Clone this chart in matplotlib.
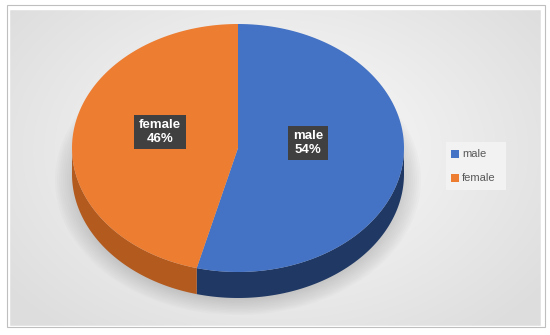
import numpy as np
import matplotlib.pyplot as plt
from matplotlib.patches import Polygon, Rectangle, Ellipse

# data
labels = ['male', 'female']
values = [54, 46]
top_colors = ['#4472c4', '#ed7d31']
side_colors = ['#1f3864', '#b35a1e']

# pie geometry (pixel units)
cx, cy = 238, 148
rx, ry = 166, 124
depth = 26

fig = plt.figure(figsize=(5.5, 3.35), dpi=100)
ax = fig.add_axes([0, 0, 1, 1])
ax.set_xlim(0, 550)
ax.set_ylim(335, 0)
ax.axis('off')

# background gradient
yy, xx = np.mgrid[0:335, 0:550]
d = np.sqrt(((xx - 275) / 330.0) ** 2 + ((yy - 150) / 230.0) ** 2)
bg = 0.99 - 0.12 * np.clip(d, 0, 1)
ax.imshow(np.dstack([bg, bg, bg]), extent=[0, 550, 335, 0], zorder=0)
ax.add_patch(Rectangle((0, 0), 550, 335, fc='none', ec='white', lw=14, zorder=1))
ax.add_patch(Rectangle((7, 5), 538, 322, fc='none', ec='#bfbfbf', lw=0.8, zorder=1))

# soft shadow under the pie
for k in range(12):
    ax.add_patch(Ellipse((cx, cy + depth + 6), 2 * rx + 34 - k * 4, 2 * ry + 22 - k * 3,
                         fc='#7f7f7f', ec='none', alpha=0.03, zorder=2))


def arc(a1, a2, dy=0, n=120):
    t = np.radians(np.linspace(a1, a2, n))
    return np.column_stack([cx + rx * np.cos(t), cy - ry * np.sin(t) + dy])


# slice angles: start at 12 o'clock, clockwise
total = float(sum(values))
starts, ends = [], []
a = 90.0
for v in values:
    starts.append(a)
    a -= 360.0 * v / total
    ends.append(a)

# sides (only the front half is visible: angles -180..0)
for s, e, c in zip(starts, ends, side_colors):
    lo, hi = max(e, -180), min(s, 0)
    if hi - lo > 0:
        top = arc(hi, lo)
        bot = arc(lo, hi, depth)
        ax.add_patch(Polygon(np.vstack([top, bot]), closed=True, fc=c, ec='none', zorder=3))

# top faces
for s, e, c in zip(starts, ends, top_colors):
    pts = np.vstack([[cx, cy], arc(s, e)])
    ax.add_patch(Polygon(pts, closed=True, fc=c, ec='none', zorder=4))

# data labels
label_pos = [(308, 143), (160, 132)]
for (lx, ly), lab, v in zip(label_pos, labels, values):
    ax.text(lx, ly, '%s\n%d%%' % (lab, v), ha='center', va='center', color='white',
            fontsize=9.5, fontweight='bold', family='Liberation Sans', linespacing=1.15,
            bbox=dict(boxstyle='square,pad=0.35', fc='#404040', ec='none'), zorder=6)

# legend
ax.add_patch(Rectangle((446, 142), 60, 48, fc='#f2f2f2', ec='none', zorder=5))
for i, (lab, c) in enumerate(zip(labels, top_colors)):
    y = 154 + i * 24
    ax.add_patch(Rectangle((451, y - 4), 8, 8, fc=c, ec='none', zorder=6))
    ax.text(462, y, lab, ha='left', va='center', color='#595959', fontsize=8,
            family='Liberation Sans', zorder=6)

fig.savefig('out.png', dpi=100)
